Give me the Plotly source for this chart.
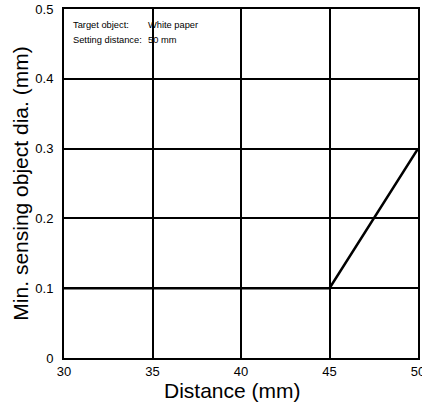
import plotly.graph_objects as go

distance = [30, 45, 50]
min_dia = [0.1, 0.1, 0.3]
x_ticks = [30, 35, 40, 45, 50]
y_ticks = [0, 0.1, 0.2, 0.3, 0.4, 0.5]
y_tick_labels = ["0", "0.1", "0.2", "0.3", "0.4", "0.5"]

fig = go.Figure()
fig.add_trace(go.Scatter(x=distance, y=min_dia, mode="lines",
                         line=dict(color="black", width=2.5), showlegend=False,
                         cliponaxis=False))

fig.update_layout(
    width=422, height=406,
    margin=dict(l=64, r=4, t=9, b=48, autoexpand=False),
    paper_bgcolor="white", plot_bgcolor="white",
    font=dict(family="Liberation Sans, Arial, sans-serif", color="black"),
    xaxis=dict(range=[30, 50], tickvals=x_ticks, ticks="", showgrid=True,
               gridcolor="black", gridwidth=2, showline=True, linecolor="black",
               linewidth=2, mirror=True, zeroline=False, automargin=False,
               tickfont=dict(size=13), ticklabelstandoff=0, ticklabeloverflow="allow"),
    yaxis=dict(range=[0, 0.5], tickvals=y_ticks, ticktext=y_tick_labels, ticks="",
               showgrid=True, gridcolor="black", gridwidth=2, showline=True,
               linecolor="black", linewidth=2, mirror=True, zeroline=False,
               automargin=False, tickfont=dict(size=13), ticklabelstandoff=6,
               title=dict(text="Min. sensing object dia. (mm)", font=dict(size=21), standoff=1)),
)

fig.add_annotation(x=0.476, y=-0.092, xref="paper", yref="paper", text="Distance (mm)",
                   showarrow=False, xanchor="center", yanchor="middle",
                   font=dict(size=21))

notes = [("Target object:", "White paper", 0.955), ("Setting distance:", "50 mm", 0.91)]
for lab, val, yy in notes:
    fig.add_annotation(x=0.02, y=yy, xref="paper", yref="paper", text=lab,
                       showarrow=False, xanchor="left", yanchor="middle",
                       font=dict(size=9.3))
    fig.add_annotation(x=0.232, y=yy, xref="paper", yref="paper", text=val,
                       showarrow=False, xanchor="left", yanchor="middle",
                       font=dict(size=9.3))

fig.write_html("out.html", config={"displayModeBar": False},
               post_script="document.body.style.margin='0';document.body.style.overflow='hidden';")
